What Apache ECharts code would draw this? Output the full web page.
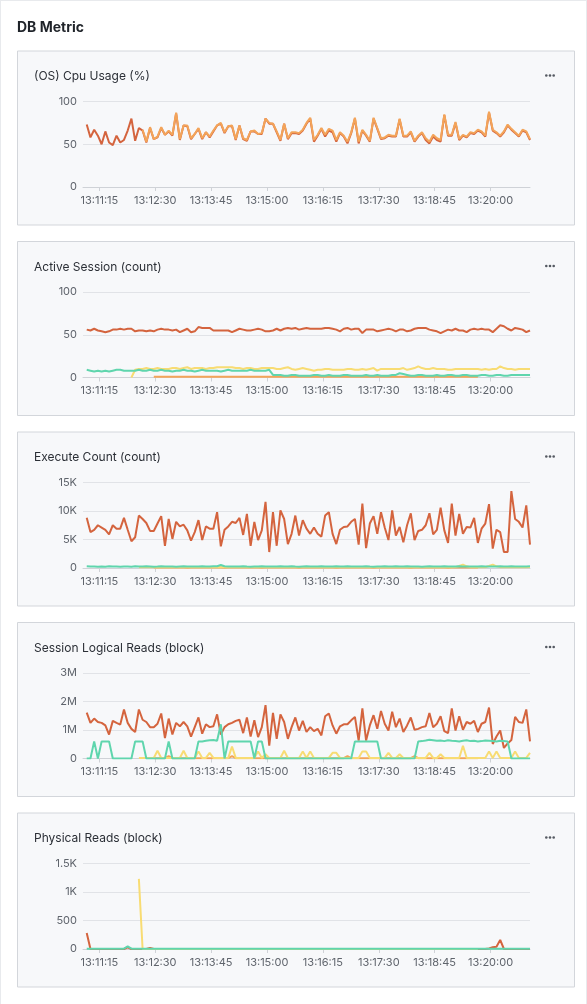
<!DOCTYPE html>
<html><head><meta charset="utf-8">
<script src="https://cdn.jsdelivr.net/npm/echarts@6/dist/echarts.min.js"></script>
<style>html,body{margin:0;padding:0;background:#e8eaed;overflow:hidden}#c{width:587px;height:1004px}</style>
</head><body><div id="c"></div>
<script>
// ---- time base: first sample 13:10:58, every 5 s, axis 13:10:53 - 13:20:53 (seconds of day)
const axisStart = 47453, axisEnd = 48053, firstSample = 47458, step = 5;
const tickTimes = [47475, 47550, 47625, 47700, 47775, 47850, 47925, 48000]; // 13:11:15 ... 13:20:00

const panelTitles = ['(OS) Cpu Usage (%)', 'Active Session (count)', 'Execute Count (count)', 'Session Logical Reads (block)', 'Physical Reads (block)'];

// ---- (OS) Cpu Usage
const cpuA = [73,58,67,60,50,65,52,49,60,52,55,66,80,54,69,66,52,69,56,58,69,61,65,60,86,55,72,71,56,62,68,56,64,58,65,72,74,63,71,71,55,72,56,54,65,65,62,62,80,74,74,64,54,74,
56,63,63,62,66,74,80,53,60,68,59,66,64,53,63,59,51,63,80,51,66,60,53,80,68,56,57,60,59,59,79,59,59,64,53,59,63,55,51,59,55,53,84,60,60,75,55,60,58,63,62,66,64,59,87,66,63,59,64,72,67,63,59,66,64,55];
const cpuB = [null,null,null,null,null,null,null,null,null,null,null,null,null,null,null,
67,53,70,56,59,70,61,66,61,87,56,72,72,57,62,69,57,64,59,66,72,75,64,71,72,56,72,57,55,65,66,62,63,80,75,74,65,55,74,
57,64,64,63,67,75,81,55,61,69,61,68,66,55,64,60,53,64,81,53,67,61,54,81,69,57,58,61,60,60,80,60,60,65,54,60,64,57,53,61,57,55,85,61,61,76,56,61,59,64,63,67,65,60,88,67,64,60,65,73,68,64,60,67,65,56];

// ---- Active Session
const sessA = [56,55,57,55,54,53,54,56,56,57,56,57,57,54,55,55,54,55,54,56,57,56,56,55,56,53,55,57,53,54,59,58,58,58,55,55,55,55,55,53,55,57,56,55,55,56,57,56,54,54,55,57,55,57,
58,57,58,56,57,58,57,57,57,57,58,58,57,56,54,57,58,56,57,57,52,56,56,56,54,55,56,57,56,54,56,56,54,55,57,58,58,58,56,55,54,52,54,56,55,57,55,55,53,56,57,56,57,56,56,53,57,61,60,57,55,58,57,56,53,55];
const sessB = [null,null,null,null,null,null,null,null,null,null,null,null,null,null,null,null,null,null,
1,1,1,1,1,1,1,1,1,1,1,1,1,1,1,1,1,1,1,1,1,1,1,1,1,1,1,1,1,1,1,1,1,1,1,1,1,1,1,1,1,1,1,1,1,1,1,1,1,1,1,1,1,1,1,1,1,1,1,1,1,1,1,1,1,1,1,1,1,1,1,1,1,1,1,1,1,1,1,1,1,1,1,1,1,1,1,1];
const sessC = [null,null,null,null,null,null,null,null,null,null,null,null,0,9,
10,10,11,10,10,11,10,10,10,11,11,10,11,12,10,11,11,11,10,11,11,12,12,12,12,12,11,11,10,11,11,10,10,11,11,11,
11,10,10,11,12,10,9,10,11,10,9,8,9,9,10,10,9,9,9,9,10,10,9,9,10,9,10,11,8,10,10,10,10,10,10,11,9,10,11,13,11,10,10,11,10,10,10,9,9,10,10,10,10,10,10,10,9,10,9,10,10,13,11,10,10,9,10,10,10,10];
const sessD = [9,8,7,8,7,8,7,8,9,9,8,8,8,8,9,8,8,9,8,8,9,8,8,7,8,8,9,8,8,7,8,9,8,8,8,8,7,8,9,8,8,8,8,8,9,8,8,8,8,9,
3,3,3,2,2,3,3,2,2,2,2,3,3,2,2,3,2,2,2,3,3,2,2,2,2,3,2,2,3,2,2,2,3,3,5,4,3,2,2,3,3,2,2,2,3,2,2,3,3,2,2,3,3,2,2,2,3,3,2,2,3,3,2,2,3,3,3,3,3,3];

// ---- Execute Count
const execA = [8800,6300,6700,7500,7100,6700,5900,7500,6900,6900,8800,6700,4700,5400,9200,8600,7900,6500,6500,7800,9100,3900,8600,5100,8100,7300,7600,6600,4800,6300,8400,4900,7300,6900,6900,9800,3800,6700,7300,8100,7900,8800,5800,9500,3900,8100,4900,6600,11600,2800,9800,3900,10100,8600,
4200,6000,9200,5700,8400,6900,6000,7100,6000,5500,9200,9800,6000,4200,6700,7200,7300,8100,8600,4100,11300,3500,7800,9100,6000,9800,7100,4900,10100,5700,7200,4500,7500,9600,4900,6500,6700,7500,9600,5900,6700,10600,6600,4400,11300,5700,9500,6000,7200,7100,8800,4400,6900,7800,11200,3400,6700,6300,2800,2800,13500,8600,8100,7100,11000,4100];
const execB = [null,null,null,null,null,null,null,null,null,null,null,null,null,null,null,null,null,null,
80,90,70,80,100,80,70,90,80,60,80,90,70,80,100,80,70,90,80,60,80,90,70,80,100,80,70,90,80,60,80,90,70,80,100,80,70,90,80,60,80,90,70,80,100,80,70,90,80,60,80,90,70,80,100,80,70,90,80,60,80,90,70,80,100,80,70,90,80,60,80,90,70,80,100,80,70,90,80,60,80,90,70,80,100,80,70,90];
const execC = [null,null,null,null,null,null,null,null,null,null,null,null,null,null,
120,150,140,160,130,150,
140,160,150,130,150,170,140,150,160,140,
150,130,160,150,140,170,150,140,160,150,
130,150,160,140,150,170,140,150,130,160,
150,140,160,150,130,150,170,140,150,160,
140,150,130,160,150,140,170,150,140,160,
150,130,160,150,140,150,170,140,150,160,
140,150,130,160,150,140,170,150,140,160,
150,130,160,150,140,150,170,140,150,160,
350,600,300,150,140,160,150,140,350,600,
300,150,140,160,150,130,160,150,140,160];
const execD = [300,250,280,220,260,240,300,270,250,230,
260,280,240,310,260,250,290,270,240,260,
300,250,280,260,240,270,300,260,250,280,
260,300,270,250,290,320,520,300,260,280,
250,270,300,260,240,280,260,300,270,250,
260,280,300,250,270,290,260,240,280,300,
250,270,260,300,280,250,260,290,270,250,
300,260,280,250,270,300,260,240,280,260,
300,270,250,290,260,280,300,250,270,260,
240,280,300,260,250,270,290,260,280,250,
300,270,260,280,250,270,300,260,280,250,
270,290,260,280,300,250,270,260,280,300];

// ---- Session Logical Reads
const lrA = [1610000,1250000,1400000,1280000,1250000,1160000,840000,1320000,1250000,1190000,1720000,1250000,1040000,930000,1720000,1360000,1280000,1100000,1100000,1220000,1580000,720000,1400000,840000,1250000,1130000,1280000,1130000,770000,1100000,1440000,870000,1200000,1100000,1130000,1550000,840000,1100000,1200000,1250000,1320000,1360000,890000,1440000,770000,1340000,750000,1100000,1870000,450000,1600000,690000,1550000,1280000,
690000,1100000,1440000,980000,1320000,930000,1100000,960000,1040000,810000,1480000,1580000,1160000,870000,1130000,1200000,1200000,1340000,1460000,630000,1760000,630000,1160000,1520000,1040000,1670000,1220000,980000,1640000,1100000,1400000,930000,1160000,1440000,1010000,1040000,1100000,1130000,1600000,1100000,1220000,1480000,960000,890000,1760000,980000,1480000,1010000,1280000,1220000,1320000,930000,1220000,1280000,1790000,510000,770000,980000,370000,530000,650000,1460000,1280000,1250000,1720000,600000];
const lrB = [null,null,null,null,null,null,null,null,null,null,null,null,null,null,null,null,null,null,
10000,10000,10000,10000,80000,10000,10000,10000,10000,10000,10000,10000,10000,10000,10000,10000,10000,10000,10000,10000,10000,80000,10000,10000,10000,10000,10000,10000,10000,10000,10000,10000,10000,10000,10000,10000,10000,10000,10000,10000,10000,10000,10000,10000,10000,10000,10000,10000,10000,10000,10000,10000,80000,10000,10000,10000,10000,10000,10000,10000,10000,10000,10000,10000,10000,10000,10000,10000,10000,10000,80000,10000,10000,10000,10000,10000,10000,10000,10000,10000,10000,10000,10000,10000,10000,10000,10000,10000];
const lrC = [null,null,null,null,null,null,null,null,null,null,null,null,null,null,
20000,20000,20000,20000,20000,270000,
20000,20000,20000,20000,20000,20000,270000,20000,20000,20000,
250000,20000,20000,200000,20000,20000,20000,20000,20000,420000,
20000,20000,20000,20000,20000,20000,250000,20000,150000,20000,
20000,20000,20000,270000,20000,20000,20000,20000,250000,20000,
250000,20000,20000,20000,20000,20000,200000,200000,20000,20000,
20000,20000,20000,20000,250000,250000,20000,20000,20000,20000,
20000,200000,20000,20000,150000,20000,20000,20000,20000,20000,
20000,20000,200000,20000,20000,150000,20000,20000,20000,20000,
20000,450000,20000,20000,20000,20000,20000,20000,250000,20000,
250000,20000,20000,20000,20000,250000,20000,20000,20000,200000];
const lrD = [0,0,600000,0,600000,600000,600000,0,0,0,
0,0,0,600000,600000,600000,0,0,0,0,
0,0,600000,0,0,0,0,0,0,0,
600000,600000,620000,640000,650000,620000,1200000,0,600000,600000,
600000,600000,600000,600000,600000,0,600000,600000,0,0,
0,0,0,0,0,0,0,0,0,0,
0,0,0,0,0,0,0,0,0,0,
0,0,600000,600000,600000,600000,600000,600000,600000,0,
0,0,0,0,0,0,0,0,0,600000,
610000,630000,660000,640000,620000,630000,610000,640000,620000,610000,
600000,620000,640000,610000,620000,600000,610000,630000,620000,610000,
600000,620000,610000,600000,0,0,0,0,0,0];

// ---- Physical Reads
const prA = [280,0,0,0,0,0,0,0,0,0, 0,30,0,0,0,0,0,20,0,0,
0,0,0,0,0,0,0,0,0,0, 0,0,0,0,0,0,0,0,0,0,
0,0,0,0,0,0,0,0,0,0, 0,0,0,0,0,0,0,0,0,0,
0,0,0,0,0,0,0,0,0,0, 0,0,0,0,0,0,0,0,0,0,
0,0,0,0,0,0,0,0,0,0, 0,0,0,0,0,0,0,0,0,0,
0,0,0,0,0,0,0,0,10,30, 40,160,0,0,0,0,0,0,0,0];
const prB = [null,null,null,null,null,null,null,null,null,null,null,null,null,null,null,null,null,null,
0,0,0,0,0,0,0,0,0,0,0,0,0,0,0,0,0,0,0,0,0,0,0,0,0,0,0,0,0,0,0,0,0,0,0,0,0,0,0,0,0,0,0,0,0,0,0,0,0,0,0,0,0,0,0,0,0,0,0,0,0,0,0,0,0,0,0,0,0,0,0,0,0,0,0,0,0,0,0,0,0,0,0,0,0,0,0,0];
const prC = [null,null,null,null,null,null,null,null,null,null,null,null,null,null,1230,
0,0,0,0,0,0,0,0,0,0,0,0,0,0,0,0,0,0,0,0,0,0,0,0,0,0,0,0,0,0,0,0,0,0,0,0,0,0,0,0,0,0,0,0,0,0,0,0,0,0,0,0,0,0,0,0,0,0,0,0,0,0,0,0,0,0,0,0,0,0,0,0,0,0,0,0,0,0,0,0,0,0,0,0,0,0,0,0,0,0,0];
const prD = [5,5,5,5,5,5,5,5,5,5, 5,45,5,5,5,5,5,5,5,5,
5,5,5,5,5,5,5,5,5,5, 5,5,5,5,5,5,5,5,5,5,
5,5,5,5,5,5,5,5,5,5, 5,5,5,5,5,5,5,5,5,5,
5,5,5,5,5,5,5,5,5,5, 5,5,5,5,5,5,5,5,5,5,
5,5,5,5,5,5,5,5,5,5, 5,5,5,5,5,5,5,5,5,5,
5,5,5,5,5,5,5,5,5,5, 5,5,5,5,5,5,5,5,5,5];

const C_RED = '#d4643e', C_ORANGE = '#f3a459', C_YELLOW = '#f8dc73', C_GREEN = '#5fd5ad';

const panels = [
  {series: [[cpuA, C_RED], [cpuB, C_ORANGE]], max: 100, interval: 50, fmt: v => String(v)},
  {series: [[sessA, C_RED], [sessB, C_ORANGE], [sessC, C_YELLOW], [sessD, C_GREEN]], max: 100, interval: 50, fmt: v => String(v)},
  {series: [[execA, C_RED], [execB, C_ORANGE], [execC, C_YELLOW], [execD, C_GREEN]], max: 15000, interval: 5000, fmt: v => v === 0 ? '0' : (v / 1000) + 'K'},
  {series: [[lrA, C_RED], [lrB, C_ORANGE], [lrC, C_YELLOW], [lrD, C_GREEN]], max: 3000000, interval: 1000000, fmt: v => v === 0 ? '0' : (v / 1000000) + 'M'},
  {series: [[prA, C_RED], [prB, C_ORANGE], [prC, C_YELLOW], [prD, C_GREEN]], max: 1500, interval: 500, fmt: v => v >= 1000 ? (v / 1000) + 'K' : String(v)}
];

const gridTops = [101.5, 292, 482.5, 673, 863.5];
const gridH = 85.5;
const FONT = 'Inter, "Noto Sans", sans-serif';

function hms(s) {
  const h = Math.floor(s / 3600), m = Math.floor((s % 3600) / 60), sec = Math.round(s % 60);
  const p = n => (n < 10 ? '0' : '') + n;
  return h + ':' + p(m) + ':' + p(sec);
}

const grid = [], xAxis = [], yAxis = [], series = [], graphic = [];
graphic.push({type: 'rect', shape: {x: 1, y: 1, width: 585, height: 1010}, style: {fill: '#ffffff'}, silent: true, z: -10});
graphic.push({type: 'text', x: 17, y: 27.5, style: {text: 'DB Metric', font: 'bold 14px ' + FONT, fill: '#1f2329', textVerticalAlign: 'middle'}, z: 5});

panels.forEach((p, i) => {
  const top = gridTops[i];
  const pTop = top - 50.5;
  graphic.push({type: 'rect', shape: {x: 17.5, y: pTop, width: 557, height: 174}, style: {fill: '#f7f8fa', stroke: '#d3d6db', lineWidth: 1}, silent: true, z: -5});
  graphic.push({type: 'text', x: 34, y: pTop + 25.5, style: {text: panelTitles[i], font: '12px ' + FONT, fill: '#2b2f36', textVerticalAlign: 'middle'}, z: 5});
  [546.3, 550, 553.7].forEach(cx => graphic.push({type: 'circle', shape: {cx: cx, cy: pTop + 24.5, r: 1.3}, style: {fill: '#555a62'}, silent: true, z: 5}));

  grid.push({left: 83, right: 57, top: top, height: gridH});
  xAxis.push({
    type: 'value', gridIndex: i, min: axisStart, max: axisEnd,
    axisLine: {lineStyle: {color: '#cfd2d7', width: 1}},
    axisTick: {show: true, length: 4, customValues: tickTimes, lineStyle: {color: '#cfd2d7'}},
    axisLabel: {customValues: tickTimes, formatter: v => hms(v), color: '#5f646c', fontSize: 11, fontFamily: FONT, margin: 8},
    splitLine: {show: false}
  });
  yAxis.push({
    type: 'value', gridIndex: i, min: 0, max: p.max, interval: p.interval,
    axisLine: {show: false}, axisTick: {show: false},
    axisLabel: {formatter: p.fmt, color: '#5f646c', fontSize: 11, fontFamily: FONT, margin: 6},
    splitLine: {lineStyle: {color: '#e1e3e7', width: 1}}
  });
  p.series.forEach(([arr, color]) => {
    series.push({
      type: 'line', xAxisIndex: i, yAxisIndex: i, showSymbol: false, symbol: 'none',
      lineStyle: {color: color, width: 2}, itemStyle: {color: color},
      data: arr.map((v, k) => [firstSample + step * k, v])
    });
  });
});

const chart = echarts.init(document.getElementById('c'), null, {renderer: 'canvas'});
chart.setOption({animation: false, backgroundColor: '#e8eaed', grid, xAxis, yAxis, series, graphic});
</script></body></html>
